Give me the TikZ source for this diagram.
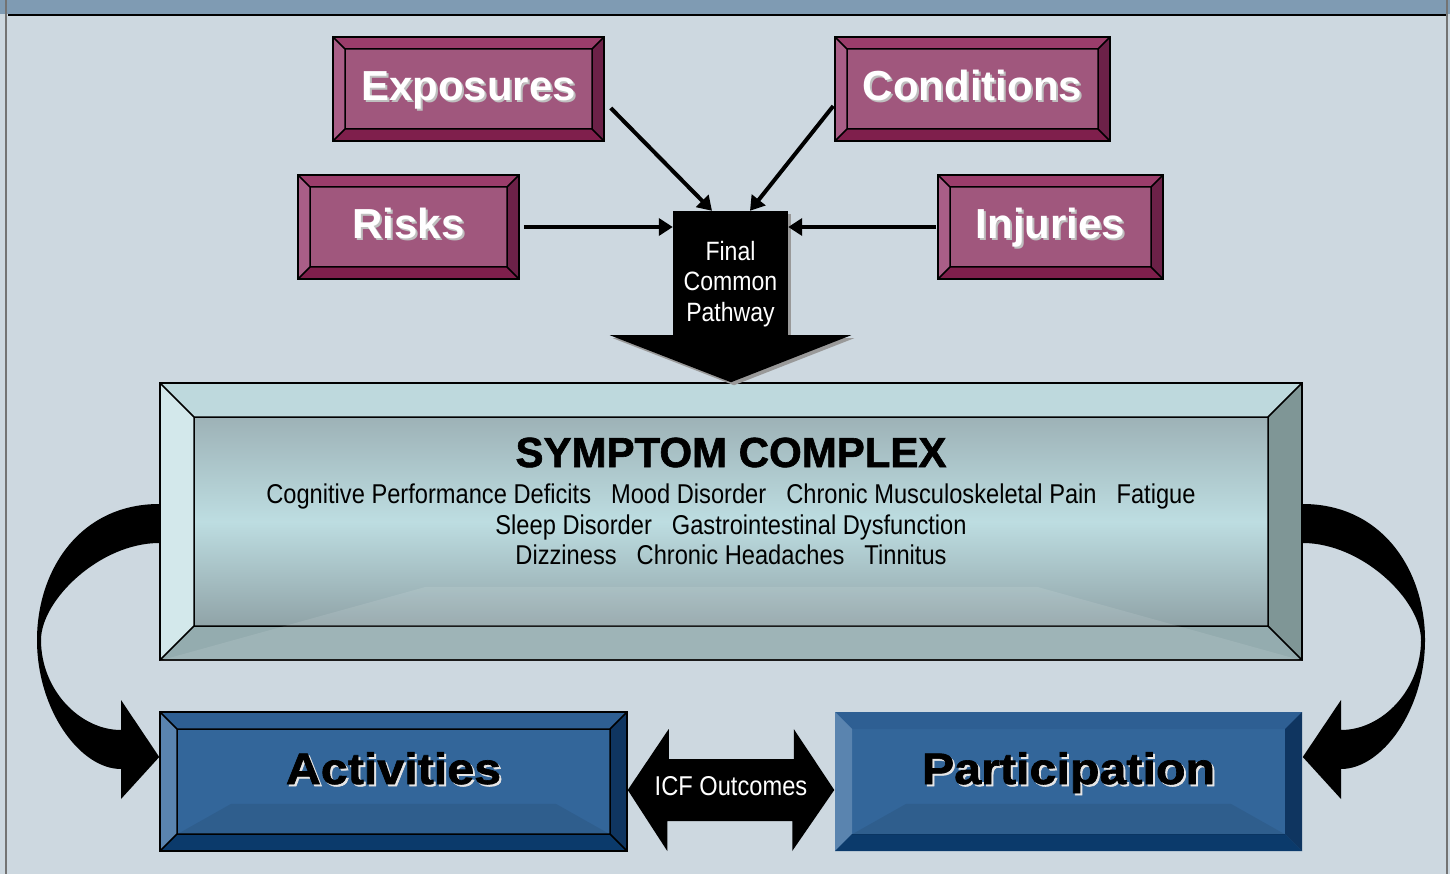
\documentclass[tikz,border=0pt]{standalone}
\usepackage{fontspec}
\setmainfont{Liberation Sans}
\newfontfamily\narrowfont{Liberation Sans}[FakeStretch=0.87]
\newfontfamily\blackfont{Liberation Sans}[FakeBold=1.5]
\newfontfamily\heavyfont{Liberation Sans}[FakeStretch=1.1,FakeBold=1.5]
\usetikzlibrary{arrows.meta,shadows}

\definecolor{pagebg}{HTML}{CDD8E0}
\definecolor{bandbg}{HTML}{7F9BB3}
\definecolor{plumface}{HTML}{A0577D}
\definecolor{plumtop}{HTML}{9B3D6B}
\definecolor{plumleft}{HTML}{A95E87}
\definecolor{plumbot}{HTML}{7F1F4C}
\definecolor{plumright}{HTML}{6C2148}
\definecolor{blueface}{HTML}{33669A}
\definecolor{bluetop}{HTML}{2E5F93}
\definecolor{blueleft}{HTML}{5A84AF}
\definecolor{bluebot}{HTML}{0B3A6B}
\definecolor{blueright}{HTML}{0F3560}
\definecolor{tealtop}{HTML}{BED9DD}
\definecolor{tealleft}{HTML}{D3E8EB}
\definecolor{tealbot}{HTML}{94ACAF}
\definecolor{tealright}{HTML}{7F9696}
\definecolor{tealhi}{HTML}{BDDDE1}
\definecolor{tealgrey}{HTML}{93A4A9}

\newcommand\shadowed[3]{\rlap{\kern2pt\raisebox{-2pt}{\textcolor{#2}{#3}}}\textcolor{#1}{#3}}
\newcommand\itemgap{\hspace{20pt}}

\tikzset{
  bevel edge/.style={black, line width=1.5pt},
  bevel/.style n args={5}{path picture={
    \path (path picture bounding box.north west) coordinate (o1)
          (path picture bounding box.north east) coordinate (o2)
          (path picture bounding box.south east) coordinate (o3)
          (path picture bounding box.south west) coordinate (o4)
          ([shift={(#1pt,-#1pt)}]o1) coordinate (i1)
          ([shift={(-#1pt,-#1pt)}]o2) coordinate (i2)
          ([shift={(-#1pt,#1pt)}]o3) coordinate (i3)
          ([shift={(#1pt,#1pt)}]o4) coordinate (i4);
    \fill[#2] (o1) -- (o2) -- (i2) -- (i1) -- cycle;
    \fill[#3] (o1) -- (i1) -- (i4) -- (o4) -- cycle;
    \fill[#4] (o4) -- (i4) -- (i3) -- (o3) -- cycle;
    \fill[#5] (o2) -- (o3) -- (i3) -- (i2) -- cycle;
    \draw[bevel edge] (i1) rectangle (i3) (o1) -- (i1) (o2) -- (i2)
                      (o3) -- (i3) (o4) -- (i4);
  }},
  dropshade/.style={drop shadow={shadow xshift=3pt, shadow yshift=-3pt,
                             fill=black!40, opacity=1}}
}

\begin{document}
\begin{tikzpicture}[x=1pt, y=-1pt,
  plumbox/.style={rectangle, draw=black, line width=1.5pt, fill=plumface,
    inner sep=0pt, minimum height=104pt, text height=31pt, text depth=8pt,
    font=\fontsize{42}{48}\selectfont\bfseries,
    bevel={12}{plumtop}{plumleft}{plumbot}{plumright}},
  bluebox/.style={rectangle, draw=black, line width=1.5pt, fill=blueface,
    inner sep=0pt, minimum width=467pt, minimum height=139pt,
    text height=31pt, text depth=26pt,
    font=\heavyfont\bfseries\fontsize{44}{50}\selectfont,
    bevel={17}{bluetop}{blueleft}{bluebot}{blueright}},
  narrow/.style={inner sep=0pt, font=\narrowfont\fontsize{27.2}{30.5}\selectfont},
  link/.style={line width=4pt, -{Triangle[length=14pt, width=17pt]}},
  curvearrow/.style={fill=black}
]

% page
\useasboundingbox (0,0) rectangle (1450,874);
\fill[pagebg] (0,0) rectangle (1450,874);
\fill[bandbg] (0,0) rectangle (1450,14);
\draw[line width=2pt] (8,15) -- (1447,15);
\draw[black!55, line width=2pt] (6,0) -- (6,874);
\draw[black!55, line width=2pt] (1447,0) -- (1447,874);

% causes
\node[plumbox, minimum width=271pt] (expo) at (468.5,89) {\shadowed{white}{black!25}{Exposures}};
\node[plumbox, minimum width=275pt] (cond) at (972.5,89) {\shadowed{white}{black!25}{Conditions}};
\node[plumbox, minimum width=221pt] (risk) at (408.5,227) {\shadowed{white}{black!25}{Risks}};
\node[plumbox, minimum width=225pt] (inju) at (1050.5,227) {\shadowed{white}{black!25}{Injuries}};

% symptom complex
\node[rectangle, draw=black, line width=1.5pt, inner sep=0pt,
  minimum width=1142pt, minimum height=277pt,
  top color=tealgrey, bottom color=tealgrey!88!black, middle color=tealhi,
  bevel={34}{tealtop}{tealleft}{tealbot}{tealright}] (symp) at (731,521.5) {};
\fill[white, opacity=.1] (symp.south west) -- ([shift={(267,-74)}]symp.south west)
  -- ([shift={(-266,-74)}]symp.south east) -- (symp.south east) -- cycle;

\node[anchor=base, inner sep=0pt, font=\blackfont\bfseries\fontsize{42}{48}\selectfont] (symtitle) at (731,467) {SYMPTOM COMPLEX};
\node[narrow, anchor=base] (sym1) at (731,503) {Cognitive Performance Deficits\itemgap Mood Disorder\itemgap Chronic Musculoskeletal Pain\itemgap Fatigue};
\node[narrow, anchor=base] (sym2) at (731,534) {Sleep Disorder\itemgap Gastrointestinal Dysfunction};
\node[narrow, anchor=base] (sym3) at (731,564) {Dizziness\itemgap Chronic Headaches\itemgap Tinnitus};

% final common pathway
\node[fill=black, inner sep=0pt, minimum width=115pt, minimum height=124pt, dropshade] (fcp) at (730.5,273) {};
\fill[black, dropshade] ([xshift=-63]fcp.south west) -- ([xshift=63]fcp.south east) -- (symp.north) -- cycle;
\node[narrow, white, align=center, font=\narrowfont\fontsize{26.5}{30.5}\selectfont] (fcplabel) at ([yshift=-11]fcp.center) {Final\\Common\\Pathway};

\draw[link] ([shift={(6,19)}]expo.east) -- ([xshift=-18.5]fcp.north);
\draw[link] ([shift={(-1,17)}]cond.west) -- ([xshift=19.5]fcp.north);
\draw[link] ([xshift=4]risk.east) -- (risk.east -| fcp.west);
\draw[link] ([xshift=-1]inju.west) -- (inju.west -| fcp.east);

% outcomes
\node[bluebox] (acti) at (393.5,781.5) {\shadowed{black}{white!80!gray}{Activities}};
\node[bluebox, draw=none, bevel edge/.style={draw=none}] (part) at (1068.5,781.5) {\shadowed{black}{white!80!gray}{Participation}};
\fill[black, opacity=.08] ([shift={(17,-17)}]acti.south west) -- ([shift={(72,-48)}]acti.south west)
  -- ([shift={(-72,-48)}]acti.south east) -- ([shift={(-17,-17)}]acti.south east) -- cycle;
\fill[black, opacity=.08] ([shift={(17,-17)}]part.south west) -- ([shift={(72,-48)}]part.south west)
  -- ([shift={(-72,-48)}]part.south east) -- ([shift={(-17,-17)}]part.south east) -- cycle;

\fill[curvearrow] ([yshift=17.5]symp.west) .. controls (80,504) and (37,570) .. (37,640)
  .. controls (37,710) and (80,769) .. (121,769) -- (121,799) -- ([yshift=24.5]acti.west)
  -- (121,700) -- (121,730) .. controls (80,730) and (41,690) .. (41,640)
  .. controls (41,600) and (100,543) .. ([yshift=-21.5]symp.west) -- cycle;
\fill[curvearrow] ([yshift=17.5]symp.east) .. controls (1382,504) and (1425,570) .. (1425,640)
  .. controls (1425,710) and (1382,769) .. (1341,769) -- (1341,799) -- ([yshift=24.5]part.east)
  -- (1341,700) -- (1341,730) .. controls (1382,730) and (1421,690) .. (1421,640)
  .. controls (1421,600) and (1362,543) .. ([yshift=-21.5]symp.east) -- cycle;

\fill[black] ([yshift=-8.5]acti.east) -- ++(41,-61) -- ++(0,30) -- ++(125,0) -- ++(0,-30)
  -- ([yshift=-8.5]part.west) -- ++(-42,61) -- ++(0,-30) -- ++(-125,0) -- ++(0,30) -- cycle;
\node[narrow, white, anchor=base] (icf) at (731,795) {ICF Outcomes};

\end{tikzpicture}
\end{document}
